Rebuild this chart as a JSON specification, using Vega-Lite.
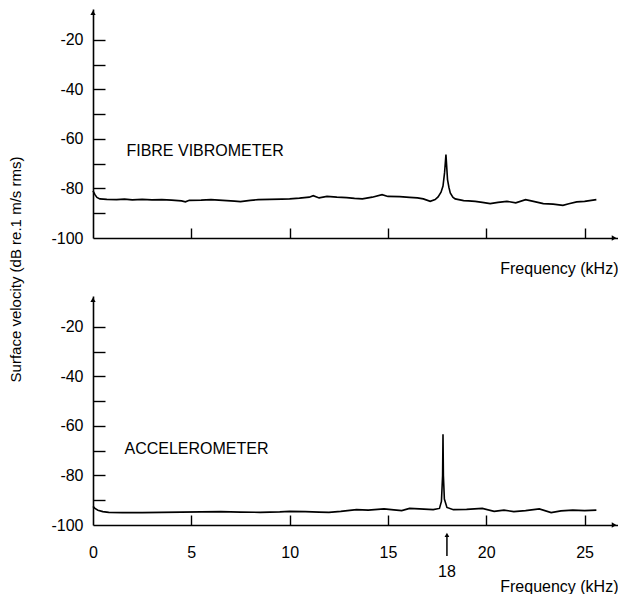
{
  "$schema": "https://vega.github.io/schema/vega-lite/v6.json",
  "background": "white",
  "padding": {"left": 8, "top": 9, "right": 0, "bottom": 0},
  "bounds": "flush",
  "spacing": 58,
  "config": {
    "view": {"stroke": null},
    "font": "Liberation Sans",
    "axis": {
      "domainColor": "black", "domainWidth": 1.6, "ticks": false, "grid": false,
      "tickColor": "black", "tickWidth": 1.4,
      "labelColor": "black", "titleColor": "black", "labelFont": "Liberation Sans", "labelFontSize": 16,
      "titleFont": "Liberation Sans", "titleFontSize": 16, "titleFontWeight": "normal",
      "labelFlush": false, "labelOverlap": false
    },
    "text": {"font": "Liberation Sans", "color": "black"}
  },
  "datasets": {
    "fibre": [
      {"f": 0, "db": -81}, {"f": 0.1, "db": -82.5}, {"f": 0.2, "db": -83.6}, {"f": 0.35, "db": -84.2},
      {"f": 0.7, "db": -84.4}, {"f": 1.2, "db": -84.5}, {"f": 1.6, "db": -84.3}, {"f": 2.0, "db": -84.6},
      {"f": 2.5, "db": -84.4}, {"f": 3.0, "db": -84.6}, {"f": 3.5, "db": -84.5}, {"f": 4.0, "db": -84.7},
      {"f": 4.5, "db": -85.0}, {"f": 4.7, "db": -85.4}, {"f": 4.9, "db": -84.8}, {"f": 5.5, "db": -84.7},
      {"f": 6.0, "db": -84.5}, {"f": 6.6, "db": -84.8}, {"f": 7.2, "db": -85.1}, {"f": 7.5, "db": -85.3},
      {"f": 7.8, "db": -85.0}, {"f": 8.0, "db": -84.8}, {"f": 8.4, "db": -84.5}, {"f": 9.0, "db": -84.4},
      {"f": 9.6, "db": -84.3}, {"f": 10.0, "db": -84.2}, {"f": 10.5, "db": -83.9}, {"f": 11.0, "db": -83.5},
      {"f": 11.2, "db": -82.9}, {"f": 11.5, "db": -83.8}, {"f": 11.9, "db": -83.2}, {"f": 12.4, "db": -83.5},
      {"f": 12.9, "db": -83.7}, {"f": 13.3, "db": -84.0}, {"f": 13.7, "db": -84.2}, {"f": 14.2, "db": -83.5},
      {"f": 14.7, "db": -82.5}, {"f": 15.0, "db": -83.2}, {"f": 15.6, "db": -83.3}, {"f": 16.1, "db": -83.6},
      {"f": 16.5, "db": -83.8}, {"f": 16.8, "db": -84.2}, {"f": 17.15, "db": -85.2}, {"f": 17.4, "db": -84.5},
      {"f": 17.55, "db": -83.4}, {"f": 17.7, "db": -81.5}, {"f": 17.8, "db": -79}, {"f": 17.88, "db": -73.6},
      {"f": 17.95, "db": -66.3}, {"f": 18.03, "db": -76.4}, {"f": 18.1, "db": -79.5}, {"f": 18.17, "db": -81.8},
      {"f": 18.3, "db": -83.5}, {"f": 18.42, "db": -84.2}, {"f": 18.85, "db": -84.9}, {"f": 19.1, "db": -85.0},
      {"f": 19.44, "db": -85.2}, {"f": 19.8, "db": -85.6}, {"f": 20.2, "db": -86.1}, {"f": 20.6, "db": -85.6},
      {"f": 21.05, "db": -85.2}, {"f": 21.5, "db": -85.8}, {"f": 22.0, "db": -84.5}, {"f": 22.4, "db": -85.2},
      {"f": 22.9, "db": -86.1}, {"f": 23.4, "db": -86.3}, {"f": 23.9, "db": -86.8}, {"f": 24.2, "db": -86.2},
      {"f": 24.6, "db": -85.4}, {"f": 25.0, "db": -85.2}, {"f": 25.6, "db": -84.5}
    ],
    "accel": [
      {"f": 0, "db": -92.5}, {"f": 0.1, "db": -93.3}, {"f": 0.25, "db": -94.0}, {"f": 0.5, "db": -94.6},
      {"f": 0.8, "db": -94.9}, {"f": 1.5, "db": -95.0}, {"f": 2.5, "db": -95.0}, {"f": 3.5, "db": -94.9},
      {"f": 4.5, "db": -94.8}, {"f": 5.5, "db": -94.7}, {"f": 6.5, "db": -94.6}, {"f": 7.5, "db": -94.8},
      {"f": 8.5, "db": -94.9}, {"f": 9.5, "db": -94.7}, {"f": 10.0, "db": -94.5}, {"f": 10.8, "db": -94.6},
      {"f": 11.5, "db": -94.8}, {"f": 12.0, "db": -94.9}, {"f": 12.6, "db": -94.5}, {"f": 13.4, "db": -93.8},
      {"f": 14.0, "db": -94.0}, {"f": 14.8, "db": -93.5}, {"f": 15.3, "db": -93.9}, {"f": 15.7, "db": -94.2},
      {"f": 16.1, "db": -93.3}, {"f": 16.6, "db": -93.5}, {"f": 17.3, "db": -93.8}, {"f": 17.62, "db": -93.3},
      {"f": 17.72, "db": -90.5}, {"f": 17.78, "db": -80}, {"f": 17.8, "db": -63.3}, {"f": 17.82, "db": -80},
      {"f": 17.87, "db": -89.5}, {"f": 18.0, "db": -92.9}, {"f": 18.33, "db": -93.8}, {"f": 19.0, "db": -93.7},
      {"f": 19.8, "db": -93.3}, {"f": 20.4, "db": -94.5}, {"f": 20.9, "db": -94.0}, {"f": 21.4, "db": -94.6},
      {"f": 22.0, "db": -94.2}, {"f": 22.7, "db": -93.5}, {"f": 23.3, "db": -95.0}, {"f": 23.8, "db": -94.3},
      {"f": 24.4, "db": -94.0}, {"f": 25.0, "db": -94.2}, {"f": 25.6, "db": -94.0}
    ],
    "one": [{"k": 1}]
  },
  "vconcat": [
    {
      "width": 525,
      "height": 229,
      "resolve": {"scale": {"x": "independent", "y": "independent"}},
      "layer": [
        {
          "data": {"name": "fibre"},
          "mark": {"type": "line", "color": "black", "strokeWidth": 1.6, "interpolate": "linear"},
          "encoding": {
            "x": {"field": "f", "type": "quantitative",
              "scale": {"domain": [0, 26.7], "nice": false, "zero": false},
              "axis": {"values": [5, 10, 15, 20, 25], "labels": false,
                "title": "Frequency (kHz)", "titleX": 525, "titleY": 22, "titleAlign": "right", "titleBaseline": "top", "titleFontSize": 16}},
            "y": {"field": "db", "type": "quantitative",
              "scale": {"domain": [-100, -7.5], "nice": false, "zero": false},
              "axis": {"values": [-100, -80, -60, -40, -20],
                "labelExpr": "'' + datum.value",
                "labelPadding": 10,
                "title": "Surface velocity (dB re.1 m/s rms)", "titleX": -70, "titleY": 260, "titleFontSize": 15}}
          }
        },
        {
          "data": {"name": "fibre"},
          "mark": {"type": "line", "opacity": 0},
          "encoding": {
            "x": {"field": "f", "type": "quantitative",
              "scale": {"domain": [0, 26.7], "nice": false, "zero": false},
              "axis": {"orient": "top", "offset": -229, "values": [5, 10, 15, 20, 25], "labels": false, "domain": false,
                "ticks": true, "tickSize": 10, "title": null}},
            "y": {"field": "db", "type": "quantitative",
              "scale": {"domain": [-100, -7.5], "nice": false, "zero": false},
              "axis": {"orient": "right", "offset": -525, "values": [-90, -80, -70, -60, -50, -40, -30, -20], "labels": false, "domain": false,
                "ticks": true, "tickSize": 12, "title": null}}
          }
        },
        {
          "data": {"values": [{"label": "FIBRE VIBROMETER"}]},
          "mark": {"type": "text", "align": "left", "baseline": "middle", "fontSize": 16},
          "encoding": {"x": {"datum": 1.7, "scale": {"domain": [0, 26.7], "nice": false, "zero": false}, "axis": null},
                       "y": {"datum": -65, "scale": {"domain": [-100, -7.5], "nice": false, "zero": false}, "axis": null},
                       "text": {"field": "label"}}
        },
        {
          "data": {"name": "one"},
          "mark": {"type": "point", "shape": "triangle-up", "filled": true, "color": "black", "size": 28, "opacity": 1},
          "encoding": {"x": {"datum": 0, "scale": {"domain": [0, 26.7], "nice": false, "zero": false}, "axis": null},
                       "y": {"datum": -9, "scale": {"domain": [-100, -7.5], "nice": false, "zero": false}, "axis": null}}
        },
        {
          "data": {"name": "one"},
          "mark": {"type": "point", "shape": "triangle-right", "filled": true, "color": "black", "size": 28, "opacity": 1},
          "encoding": {"x": {"datum": 26.5, "scale": {"domain": [0, 26.7], "nice": false, "zero": false}, "axis": null},
                       "y": {"datum": -100, "scale": {"domain": [-100, -7.5], "nice": false, "zero": false}, "axis": null}}
        }
      ]
    },
    {
      "width": 525,
      "height": 229,
      "resolve": {"scale": {"x": "independent", "y": "independent"}},
      "layer": [
        {
          "data": {"name": "accel"},
          "mark": {"type": "line", "color": "black", "strokeWidth": 1.6, "interpolate": "linear"},
          "encoding": {
            "x": {"field": "f", "type": "quantitative",
              "scale": {"domain": [0, 26.7], "nice": false, "zero": false},
              "axis": {"values": [0, 5, 10, 15, 20, 25], "labelPadding": 19,
                "title": "Frequency (kHz)", "titleX": 525, "titleY": 53, "titleAlign": "right", "titleBaseline": "top", "titleFontSize": 16}},
            "y": {"field": "db", "type": "quantitative",
              "scale": {"domain": [-100, -7.5], "nice": false, "zero": false},
              "axis": {"values": [-100, -80, -60, -40, -20],
                "labelExpr": "'' + datum.value",
                "labelPadding": 10, "title": null}}
          }
        },
        {
          "data": {"name": "accel"},
          "mark": {"type": "line", "opacity": 0},
          "encoding": {
            "x": {"field": "f", "type": "quantitative",
              "scale": {"domain": [0, 26.7], "nice": false, "zero": false},
              "axis": {"orient": "top", "offset": -229, "values": [5, 10, 15, 20, 25], "labels": false, "domain": false,
                "ticks": true, "tickSize": 10, "title": null}},
            "y": {"field": "db", "type": "quantitative",
              "scale": {"domain": [-100, -7.5], "nice": false, "zero": false},
              "axis": {"orient": "right", "offset": -525, "values": [-90, -80, -70, -60, -50, -40, -30, -20], "labels": false, "domain": false,
                "ticks": true, "tickSize": 12, "title": null}}
          }
        },
        {
          "data": {"values": [{"label": "ACCELEROMETER"}]},
          "mark": {"type": "text", "align": "left", "baseline": "middle", "fontSize": 16},
          "encoding": {"x": {"datum": 1.6, "scale": {"domain": [0, 26.7], "nice": false, "zero": false}, "axis": null},
                       "y": {"datum": -69.5, "scale": {"domain": [-100, -7.5], "nice": false, "zero": false}, "axis": null},
                       "text": {"field": "label"}}
        },
        {
          "data": {"values": [{"label": "18"}]},
          "mark": {"type": "text", "align": "center", "baseline": "middle", "fontSize": 16},
          "encoding": {"x": {"datum": 18, "scale": {"domain": [0, 26.7], "nice": false, "zero": false}, "axis": null},
                       "y": {"datum": -119, "scale": {"domain": [-100, -7.5], "nice": false, "zero": false}, "axis": null},
                       "text": {"field": "label"}}
        },
        {
          "data": {"name": "one"},
          "mark": {"type": "rule", "color": "black", "strokeWidth": 1.5},
          "encoding": {"x": {"datum": 18, "scale": {"domain": [0, 26.7], "nice": false, "zero": false}, "axis": null},
                       "y": {"datum": -104, "scale": {"domain": [-100, -7.5], "nice": false, "zero": false}, "axis": null},
                       "y2": {"datum": -112.5}}
        },
        {
          "data": {"name": "one"},
          "mark": {"type": "point", "shape": "triangle-up", "filled": true, "color": "black", "size": 22, "opacity": 1},
          "encoding": {"x": {"datum": 18, "scale": {"domain": [0, 26.7], "nice": false, "zero": false}, "axis": null},
                       "y": {"datum": -104, "scale": {"domain": [-100, -7.5], "nice": false, "zero": false}, "axis": null}}
        },
        {
          "data": {"name": "one"},
          "mark": {"type": "point", "shape": "triangle-up", "filled": true, "color": "black", "size": 28, "opacity": 1},
          "encoding": {"x": {"datum": 0, "scale": {"domain": [0, 26.7], "nice": false, "zero": false}, "axis": null},
                       "y": {"datum": -9, "scale": {"domain": [-100, -7.5], "nice": false, "zero": false}, "axis": null}}
        },
        {
          "data": {"name": "one"},
          "mark": {"type": "point", "shape": "triangle-right", "filled": true, "color": "black", "size": 28, "opacity": 1},
          "encoding": {"x": {"datum": 26.5, "scale": {"domain": [0, 26.7], "nice": false, "zero": false}, "axis": null},
                       "y": {"datum": -100, "scale": {"domain": [-100, -7.5], "nice": false, "zero": false}, "axis": null}}
        }
      ]
    }
  ]
}
